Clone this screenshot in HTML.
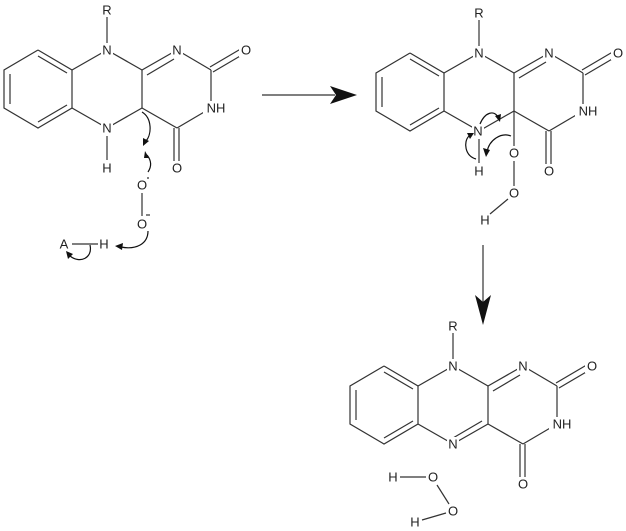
<!DOCTYPE html>
<html><head><meta charset="utf-8"><style>
html,body{margin:0;padding:0;background:#fff;}
svg{display:block;}
text{font-family:"Liberation Sans",sans-serif;font-size:13px;fill:#222;text-anchor:middle;dominant-baseline:central;}
.b{stroke:#333;stroke-width:1.2;fill:none;}
.lb{fill:#fff;stroke:none;}
.a{stroke:#111;stroke-width:1.2;fill:none;}
.h{fill:#111;stroke:none;}
</style></head><body>
<svg width="626" height="531" viewBox="0 0 626 531">
<defs>
<g id="core">
  <!-- benzene -->
  <polyline class="b" points="38,50 72,70 72,108 38,128 4,108 4,70 38,50"/>
  <line class="b" x1="38" y1="56" x2="67" y2="73"/>
  <line class="b" x1="10" y1="74" x2="10" y2="104"/>
  <line class="b" x1="38" y1="122" x2="67" y2="105"/>
  <!-- central ring -->
  <line class="b" x1="72" y1="70" x2="107" y2="50"/>
  <line class="b" x1="107" y1="50" x2="142" y2="70"/>
  <line class="b" x1="72" y1="108" x2="107" y2="128"/>
  <line class="b" x1="107" y1="128" x2="142" y2="108"/>
  <line class="b" x1="142" y1="70" x2="142" y2="108"/>
  <line class="b" x1="107" y1="50" x2="107" y2="10"/>
  <!-- pyrimidine -->
  <line class="b" x1="142" y1="70" x2="177" y2="50"/>
  <line class="b" x1="147" y1="75" x2="174" y2="59"/>
  <line class="b" x1="177" y1="50" x2="211" y2="70"/>
  <line class="b" x1="211" y1="70" x2="211" y2="108"/>
  <line class="b" x1="211" y1="108" x2="177" y2="128"/>
  <line class="b" x1="177" y1="128" x2="142" y2="108"/>
  <line class="b" x1="210" y1="67" x2="244" y2="47"/>
  <line class="b" x1="213" y1="72" x2="247" y2="52"/>
  <line class="b" x1="174" y1="128" x2="174" y2="166"/>
  <line class="b" x1="179" y1="128" x2="179" y2="166"/>
  <rect class="lb" x="101" y="3" width="12" height="14"/><text x="107" y="10">R</text>
  <rect class="lb" x="101" y="43" width="12" height="14"/><text x="107" y="50">N</text>
  <rect class="lb" x="171" y="43" width="12" height="14"/><text x="177" y="50">N</text>
  <rect class="lb" x="239" y="43" width="13" height="14"/><text x="246" y="50">O</text>
  <rect class="lb" x="203" y="101" width="22" height="14"/><text x="216" y="108">NH</text>
  <rect class="lb" x="171" y="161" width="13" height="14"/><text x="177" y="168">O</text>
</g>
</defs>

<!-- Molecule 1 -->
<use href="#core" x="0" y="0"/>
<rect class="lb" x="101" y="121" width="12" height="14"/><text x="107" y="128">N</text>
<line class="b" x1="107" y1="136" x2="107" y2="160"/>
<text x="107" y="168">H</text>
<text x="142" y="185">O</text><circle cx="148" cy="178" r="0.9" fill="#222"/>
<line class="b" x1="142" y1="193" x2="142" y2="216"/>
<text x="142" y="224">O</text><line class="b" x1="146" y1="215" x2="150" y2="215"/>
<text x="64" y="244">A</text><line class="b" x1="72" y1="244" x2="98" y2="244"/>
<text x="104" y="244">H</text>
<path class="a" d="M142,112 C152,118 152,134 146,141"/>
<polygon class="h" points="143,146 143,138 149,141"/>
<path class="a" d="M148,172 C152,166 151,160 147,155"/>
<polygon class="h" points="145,151 149,158 144,158"/>
<path class="a" d="M148,231 C148,244 136,250 121,247"/>
<polygon class="h" points="115,246 123,243 122,250"/>
<path class="a" d="M90,245 C93,258 80,264 70,256"/>
<polygon class="h" points="66,251 73,254 68,259"/>

<!-- main arrow -->
<line class="b" x1="262" y1="95" x2="335" y2="95"/>
<polygon class="h" points="357,95 330,86 336,95 330,104"/>

<!-- Molecule 2 -->
<use href="#core" x="372" y="3"/>
<rect class="lb" x="472" y="124" width="12" height="14"/><text x="478" y="131">N</text>
<line class="b" x1="479" y1="139" x2="479" y2="163"/>
<text x="479" y="171">H</text>
<line class="b" x1="514" y1="111" x2="514" y2="146"/>
<text x="514" y="153">O</text>
<line class="b" x1="514" y1="161" x2="514" y2="186"/>
<text x="514" y="193">O</text>
<line class="b" x1="508" y1="199" x2="490" y2="214"/>
<text x="485" y="220">H</text>
<path class="a" d="M480,124 C485,112 494,110 498,117"/>
<polygon class="h" points="500,122 495,116 501,114"/>
<path class="a" d="M511,136 C501,132 489,140 487,152"/>
<polygon class="h" points="486,157 483,148 490,150"/>
<path class="a" d="M476,159 C465,156 463,142 469,136"/>
<polygon class="h" points="474,133 467,133 470,139"/>

<!-- down arrow -->
<line class="b" x1="483" y1="245" x2="483" y2="305"/>
<polygon class="h" points="483,325 475,295 483,302 491,295"/>

<!-- Molecule 3 -->
<use href="#core" x="346" y="316"/>
<line class="b" x1="453" y1="438" x2="482" y2="421"/>
<rect class="lb" x="447" y="437" width="12" height="14"/><text x="453" y="444">N</text>
<text x="393" y="477">H</text><line class="b" x1="400" y1="477" x2="426" y2="477"/>
<text x="433" y="477">O</text><line class="b" x1="437" y1="485" x2="449" y2="504"/>
<text x="453" y="511">O</text><line class="b" x1="446" y1="513" x2="422" y2="520"/>
<text x="415" y="522">H</text>
</svg>
</body></html>
